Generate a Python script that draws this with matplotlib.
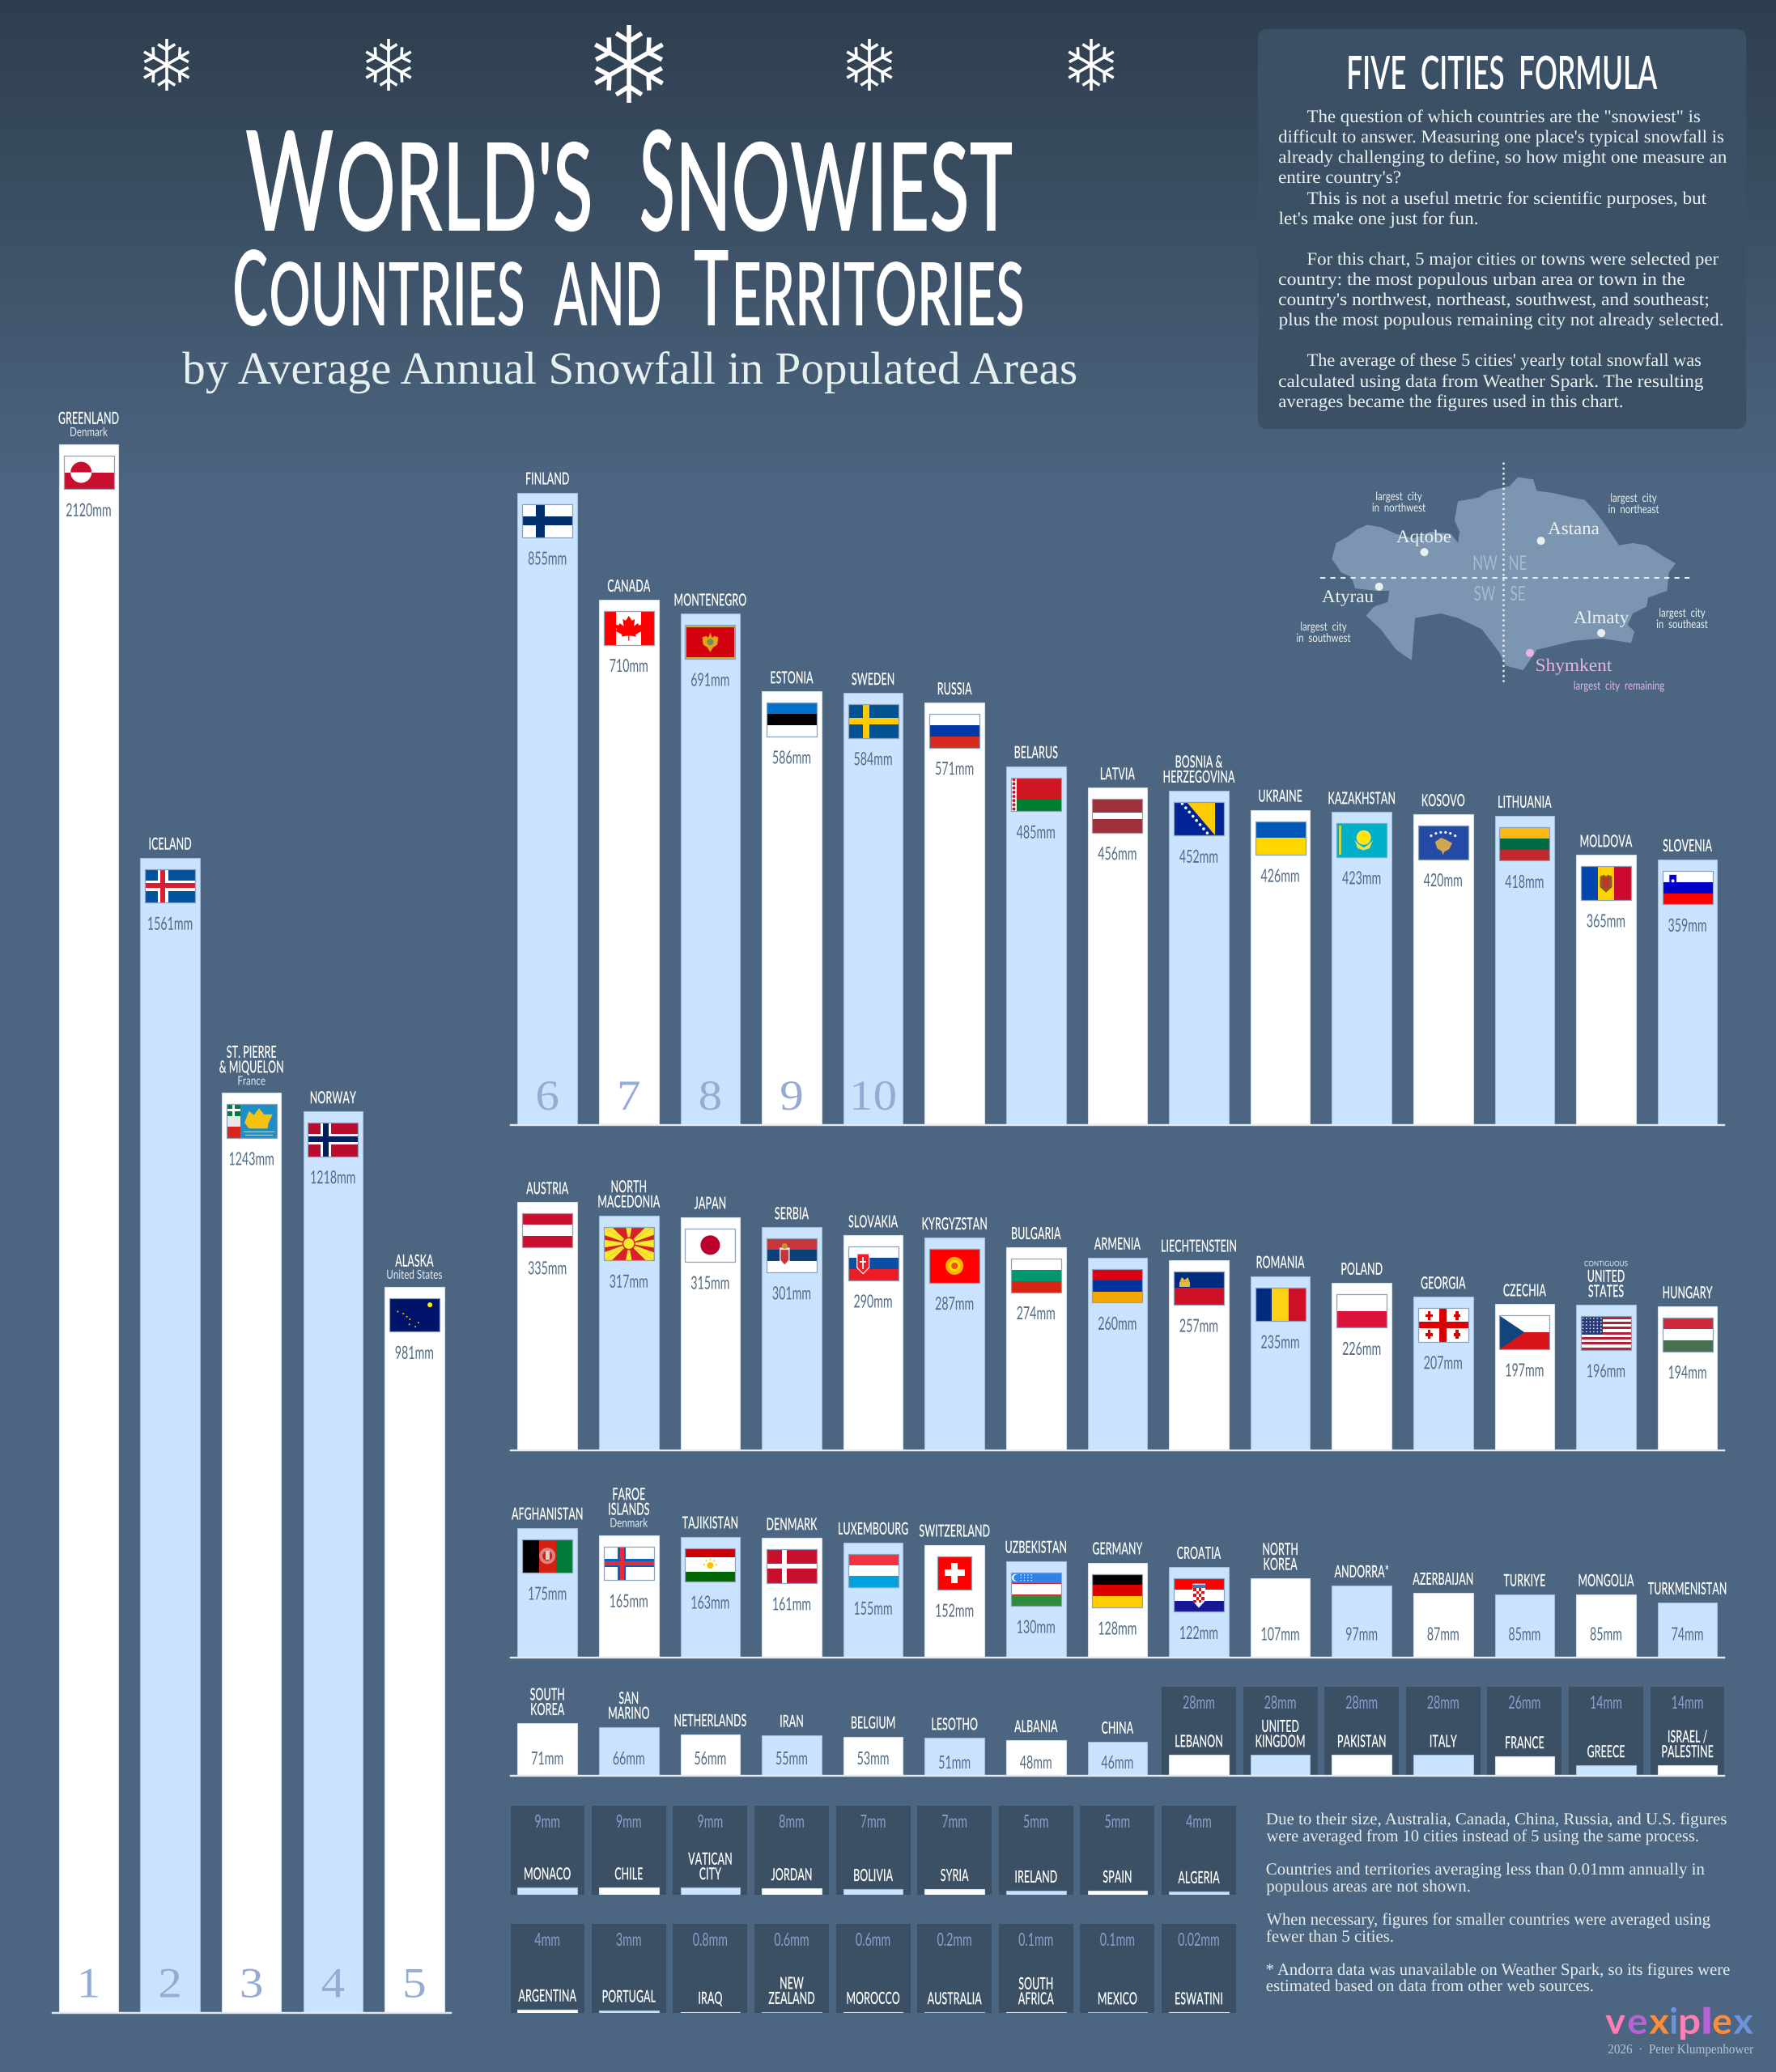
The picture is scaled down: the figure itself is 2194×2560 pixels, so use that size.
#!/usr/bin/python3

import numpy as np
import matplotlib
matplotlib.use("Agg")
import matplotlib.pyplot as plt
from matplotlib.font_manager import FontProperties
from matplotlib.patches import Rectangle, Circle, Polygon, Wedge, FancyBboxPatch
from matplotlib.patheffects import AbstractPathEffect
from matplotlib.textpath import TextPath
from matplotlib.transforms import Affine2D

plt.rcParams["text.hinting"] = "no_hinting"

W, H = 2194, 2560
DPI = 100
PX = 72.0 / DPI
SCALE = 0.914        # pixels per mm, same for every panel

# ---- data ----
names_1 = ["GREENLAND", "ICELAND", "ST. PIERRE\n& MIQUELON", "NORWAY", "ALASKA"]
values_1 = [2120, 1561, 1243, 1218, 981]

names_2 = ["FINLAND", "CANADA", "MONTENEGRO", "ESTONIA", "SWEDEN", "RUSSIA", "BELARUS", "LATVIA",
           "BOSNIA &\nHERZEGOVINA", "UKRAINE", "KAZAKHSTAN", "KOSOVO", "LITHUANIA", "MOLDOVA", "SLOVENIA"]
values_2 = [855, 710, 691, 586, 584, 571, 485, 456, 452, 426, 423, 420, 418, 365, 359]

names_3 = ["AUSTRIA", "NORTH\nMACEDONIA", "JAPAN", "SERBIA", "SLOVAKIA", "KYRGYZSTAN", "BULGARIA", "ARMENIA",
           "LIECHTENSTEIN", "ROMANIA", "POLAND", "GEORGIA", "CZECHIA", "UNITED\nSTATES", "HUNGARY"]
values_3 = [335, 317, 315, 301, 290, 287, 274, 260, 257, 235, 226, 207, 197, 196, 194]

names_4 = ["AFGHANISTAN", "FAROE\nISLANDS", "TAJIKISTAN", "DENMARK", "LUXEMBOURG", "SWITZERLAND", "UZBEKISTAN",
           "GERMANY", "CROATIA", "NORTH\nKOREA", "ANDORRA*", "AZERBAIJAN", "TURKIYE", "MONGOLIA", "TURKMENISTAN"]
values_4 = [175, 165, 163, 161, 155, 152, 130, 128, 122, 107, 97, 87, 85, 85, 74]

names_5 = ["SOUTH\nKOREA", "SAN\nMARINO", "NETHERLANDS", "IRAN", "BELGIUM", "LESOTHO", "ALBANIA", "CHINA",
           "LEBANON", "UNITED\nKINGDOM", "PAKISTAN", "ITALY", "FRANCE", "GREECE", "ISRAEL /\nPALESTINE"]
values_5 = [71, 66, 56, 55, 53, 51, 48, 46, 28, 28, 28, 28, 26, 14, 14]

names_6 = ["MONACO", "CHILE", "VATICAN\nCITY", "JORDAN", "BOLIVIA", "SYRIA", "IRELAND", "SPAIN", "ALGERIA"]
values_6 = [9, 9, 9, 8, 7, 7, 5, 5, 4]

names_7 = ["ARGENTINA", "PORTUGAL", "IRAQ", "NEW\nZEALAND", "MOROCCO", "AUSTRALIA", "SOUTH\nAFRICA", "MEXICO", "ESWATINI"]
values_7 = [4, 3, 0.8, 0.6, 0.6, 0.2, 0.1, 0.1, 0.02]

subs_below = {"GREENLAND": "Denmark", "ST. PIERRE\n& MIQUELON": "France", "ALASKA": "United States",
              "FAROE\nISLANDS": "Denmark"}
subs_above = {"UNITED\nSTATES": "CONTIGUOUS"}

box_title = "FIVE  CITIES  FORMULA"
box_lines = [
    'The question of which countries are the "snowiest" is',
    "difficult to answer. Measuring one place's typical snowfall is",
    "already challenging to define, so how might one measure an",
    "entire country's?",
    "This is not a useful metric for scientific purposes, but",
    "let's make one just for fun.",
    "For this chart, 5 major cities or towns were selected per",
    "country: the most populous urban area or town in the",
    "country's northwest, northeast, southwest, and southeast;",
    "plus the most populous remaining city not already selected.",
    "The average of these 5 cities' yearly total snowfall was",
    "calculated using data from Weather Spark. The resulting",
    "averages became the figures used in this chart.",
]
box_line_y = [151, 176, 201, 226, 252, 277, 327, 352, 377, 402, 452, 478, 503]
box_line_x = [1615, 1580, 1580, 1580, 1615, 1580, 1615, 1580, 1580, 1580, 1615, 1580, 1580]
box_line_w = [485, 549, 553, 150, 493, 245, 508, 501, 530, 548, 486, 524, 424]

foot_lines = [
    "Due to their size, Australia, Canada, China, Russia, and U.S. figures",
    "were averaged from 10 cities instead of 5 using the same process.",
    "Countries and territories averaging less than 0.01mm annually in",
    "populous areas are not shown.",
    "When necessary, figures for smaller countries were averaged using",
    "fewer than 5 cities.",
    "* Andorra data was unavailable on Weather Spark, so its figures were",
    "estimated based on data from other web sources.",
]
foot_line_y = [2254, 2275, 2316, 2337, 2378, 2399, 2440, 2460]
foot_line_w = [568, 533, 541, 251, 548, 156, 572, 403]

# colours
BG_TOP = "#2E3E4E"
BG = "#4C6580"
CARD = "#3C5065"
WHITE_BAR = "#FFFFFF"
BLUE_BAR = "#CAE4FF"
VALUE_C = "#516B85"
CARD_VALUE_C = "#8C9FCB"
RANK_C = "#96ABD3"
LINE_C = "#E3EAF0"
SERIF = "Liberation Serif"
SANS = "Lato"


class Tall(AbstractPathEffect):
    # the condensed look: a smaller font size drawn taller from the baseline
    def __init__(self, yk, left=False):
        super().__init__()
        self.yk = yk
        self.left = left

    def draw_path(self, renderer, gc, tpath, affine, rgbFace=None):
        t = Affine2D().scale(1, self.yk)
        if self.left:
            t = Affine2D().translate(-tpath.get_extents().x0, 0) + t
        gc.set_snap(False)
        renderer.draw_path(gc, tpath, t + affine, rgbFace)


def natural_width(s, size, family, weight="normal"):
    tp = TextPath((0, 0), s, size=size, prop=FontProperties(family=family, weight=weight))
    return tp.get_extents().width / PX


fig = plt.figure(figsize=(W / DPI, H / DPI), dpi=DPI)
fig.patch.set_facecolor(BG)

# background
bg = fig.add_axes([0, 0, 1, 1], zorder=0)
bg.axis("off")
t = np.clip(np.arange(H) / 600.0, 0, 1)[:, None, None] * np.ones((H, 2, 1))
c0 = np.array(matplotlib.colors.to_rgb(BG_TOP))
c1 = np.array(matplotlib.colors.to_rgb(BG))
bg.imshow(c0 + (c1 - c0) * t, aspect="auto", extent=(0, W, H, 0), interpolation="nearest")

# overlay in pixel coordinates
ov = fig.add_axes([0, 0, 1, 1], zorder=3)
ov.set_xlim(0, W)
ov.set_ylim(H, 0)
ov.axis("off")
ov.patch.set_alpha(0)


def txt(x, y, s, size, color="white", family=SERIF, weight="normal", width=None, k=1.0, ha="center"):
    # size is the height wanted, k the horizontal squeeze
    if width is not None:
        k = width / natural_width(s, size, family, weight)
    return ov.text(x, y, s, fontsize=size * k, color=color, family=family, weight=weight, ha=ha, va="baseline",
                   path_effects=[Tall(1 / k, left=ha == "left")], zorder=8)


def snowflake(cx, cy, r, lw):
    for a in np.radians(np.arange(0, 360, 60)):
        ux, uy = np.sin(a), -np.cos(a)
        px, py = uy, -ux
        ov.plot([cx, cx + ux * r], [cy, cy + uy * r], color="white", lw=lw, solid_capstyle="butt", zorder=6)
        for s in (-1, 1):
            ov.plot([cx + ux * r * .58, cx + ux * r * .79 + s * px * r * .33],
                    [cy + uy * r * .58, cy + uy * r * .79 + s * py * r * .33],
                    color="white", lw=lw, solid_capstyle="butt", zorder=6)


# ---- flags ----
def rect(f, u0, v0, u1, v1, c):
    x, y, w, h = f
    ov.add_patch(Rectangle((x + u0 * w, y + v0 * h), (u1 - u0) * w, (v1 - v0) * h, fc=c, ec="none", zorder=5))


def poly(f, pts, c):
    x, y, w, h = f
    ov.add_patch(Polygon([(x + u * w, y + v * h) for u, v in pts], fc=c, ec="none", zorder=5))


def dot(f, u, v, r, c):
    x, y, w, h = f
    ov.add_patch(Circle((x + u * w, y + v * h), r, fc=c, ec="none", zorder=5))


def hstripes(f, colors, ratios=None):
    ratios = ratios or [1] * len(colors)
    edges = np.cumsum([0] + list(ratios)) / sum(ratios)
    for c, a, b in zip(colors, edges[:-1], edges[1:]):
        rect(f, 0, a, 1, b, c)


def vstripes(f, colors):
    n = len(colors)
    for i, c in enumerate(colors):
        rect(f, i / n, 0, (i + 1) / n, 1, c)


def cross(f, bg_c, bands, uc=.36):
    # bands are (colour, thickness in px), outermost first
    x, y, w, h = f
    rect(f, 0, 0, 1, 1, bg_c)
    for c, th in bands:
        rect(f, uc - th / 2 / w, 0, uc + th / 2 / w, 1, c)
        rect(f, 0, .5 - th / 2 / h, 1, .5 + th / 2 / h, c)


def shield(f, u, v, c, du=.1, dv=.24):
    poly(f, [(u - du, v - dv), (u + du, v - dv), (u + du, v + dv * .4), (u, v + dv), (u - du, v + dv * .4)], c)


flag_h = {
    "GREENLAND": ["white", "#C8102E"],
    "ESTONIA": ["#0072CE", "black", "white"],
    "RUSSIA": ["white", "#0039A6", "#D52B1E"],
    "UKRAINE": ["#0057B7", "#FFD700"],
    "LITHUANIA": ["#FDB913", "#006A44", "#C1272D"],
    "SLOVENIA": ["white", "#0000C8", "#FF0000"],
    "AUSTRIA": ["#C8102E", "white", "#C8102E"],
    "SERBIA": ["#C6363C", "#0C4076", "white"],
    "SLOVAKIA": ["white", "#0B4EA2", "#EE1C25"],
    "BULGARIA": ["white", "#00966E", "#D62612"],
    "ARMENIA": ["#D90012", "#0033A0", "#F2A800"],
    "LIECHTENSTEIN": ["#002B7F", "#CE1126"],
    "POLAND": ["white", "#DC143C"],
    "HUNGARY": ["#CE2939", "white", "#477050"],
    "LUXEMBOURG": ["#EF3340", "white", "#00A3E0"],
    "GERMANY": ["black", "#DD0000", "#FFCE00"],
    "CROATIA": ["#FF0000", "white", "#171796"],
}
flag_v = {
    "CANADA": ["#FF0000", "white", "white", "#FF0000"],
    "MOLDOVA": ["#0046AE", "#FFD200", "#CC092F"],
    "ROMANIA": ["#002B7F", "#FCD116", "#CE1126"],
    "AFGHANISTAN": ["black", "#D32011", "#007A36"],
}
flag_cross = {
    "ICELAND": ("#02529C", [("white", 13), ("#DC1E35", 6)]),
    "NORWAY": ("#BA0C2F", [("white", 13), ("#00205B", 7)]),
    "FINLAND": ("white", [("#002F6C", 11)]),
    "SWEDEN": ("#005293", [("#FECB00", 8)]),
    "FAROE\nISLANDS": ("white", [("#0065BD", 10), ("#ED2939", 5)]),
    "DENMARK": ("#C8102E", [("white", 6)]),
}


def flag_extra(name, f):
    if name == "GREENLAND":
        x, y, w, h = f
        dot(f, .35, .5, 13, "white")
        ov.add_patch(Wedge((x + .35 * w, y + .5 * h), 13, 180, 360, fc="#C8102E", ec="none", zorder=5))
    elif name == "ST. PIERRE\n& MIQUELON":
        rect(f, 0, 0, 1, 1, "#1E8FC6")
        rect(f, 0, 0, .28, .34, "#0B7A3E")
        rect(f, .11, 0, .17, .34, "white")
        rect(f, 0, .13, .28, .21, "white")
        rect(f, 0, .34, .28, .66, "#E8E8E8")
        rect(f, 0, .66, .28, 1, "#D7261E")
        rect(f, .29, 0, .3, 1, "white")
        poly(f, [(.36, .55), (.45, .2), (.55, .32), (.65, .12), (.75, .3), (.92, .3), (.84, .55), (.82, .72), (.45, .72)], "#F5C211")
        rect(f, .34, .8, .96, .84, "#A5DCF0")
        rect(f, .38, .9, .92, .94, "#A5DCF0")
    elif name == "ALASKA":
        rect(f, 0, 0, 1, 1, "#00136B")
        dot(f, .81, .2, 3, "#FFE800")
        for u, v in [(.17, .4), (.28, .46), (.35, .55), (.41, .63), (.4, .78), (.52, .85), (.58, .73)]:
            dot(f, u, v, 1, "#E8C800")
    elif name == "CANADA":
        poly(f, [(.5, .14), (.56, .28), (.62, .24), (.6, .45), (.68, .36), (.7, .42), (.78, .4), (.74, .55), (.78, .58),
                 (.63, .7), (.65, .76), (.51, .73), (.51, .88), (.49, .88), (.49, .73), (.35, .76), (.37, .7), (.22, .58),
                 (.26, .55), (.22, .4), (.3, .42), (.32, .36), (.4, .45), (.38, .24), (.44, .28)], "#FF0000")
    elif name == "MONTENEGRO":
        rect(f, 0, 0, 1, 1, "#D4AF37")
        rect(f, .03, .05, .97, .95, "#D3000F")
        poly(f, [(.34, .36), (.42, .32), (.46, .38), (.5, .22), (.54, .38), (.58, .32), (.66, .36), (.64, .58), (.56, .66), (.5, .8), (.44, .66), (.36, .58)], "#E8A317")
        dot(f, .5, .5, 4, "#6B8E5A")
    elif name == "BELARUS":
        hstripes(f, ["#CE1720", "#007C30"], [2, 1])
        rect(f, 0, 0, .12, 1, "white")
        for v in np.arange(.06, 1, .125):
            dot(f, .06, v, 2, "#CE1720")
    elif name == "LATVIA":
        hstripes(f, ["#9E3039", "white", "#9E3039"], [2, 1, 2])
    elif name == "BOSNIA &\nHERZEGOVINA":
        rect(f, 0, 0, 1, 1, "#002395")
        poly(f, [(.25, 0), (.82, 0), (.82, 1)], "#FECB00")
        for s in np.arange(.05, 1, .125):
            dot(f, .14 + .57 * s, s, 1.8, "white")
    elif name == "KAZAKHSTAN":
        rect(f, 0, 0, 1, 1, "#00AFCA")
        rect(f, .04, .06, .1, .94, "#C4D94A")
        dot(f, .54, .42, 9, "#F4E34A")
        dot(f, .54, .42, 6.5, "#FFE800")
        poly(f, [(.36, .5), (.44, .62), (.54, .72), (.64, .62), (.72, .5), (.66, .74), (.54, .8), (.42, .74)], "#F4E34A")
    elif name == "KOSOVO":
        rect(f, 0, 0, 1, 1, "#244AA5")
        poly(f, [(.34, .48), (.46, .36), (.56, .42), (.68, .52), (.62, .7), (.52, .78), (.5, .88), (.47, .76), (.38, .68)], "#D0A650")
        for u, v in zip(np.linspace(.26, .74, 6), [.3, .23, .2, .2, .23, .3]):
            dot(f, u, v, 1.6, "white")
    elif name == "MOLDOVA":
        poly(f, [(.38, .3), (.46, .25), (.5, .3), (.54, .25), (.62, .3), (.62, .62), (.5, .78), (.38, .62)], "#8A5A1E")
        shield(f, .5, .5, "#C8312B", .06, .16)
    elif name == "SLOVENIA":
        shield(f, .21, .33, "#0000C8", .07, .21)
        dot(f, .21, .3, 2, "white")
    elif name == "NORTH\nMACEDONIA":
        rect(f, 0, 0, 1, 1, "#D82126")
        for u, v in [(0, 0), (.5, 0), (1, 0), (0, .5), (1, .5), (0, 1), (.5, 1), (1, 1)]:
            if u == .5:
                pts = [(.44, v), (.56, v), (.5, .5)]
            elif v == .5:
                pts = [(u, .38), (u, .62), (.5, .5)]
            else:
                pts = [(u, v), (abs(u - .16), v), (.5, .5)]
                poly(f, [(u, v), (u, abs(v - .24)), (.5, .5)], "#F8E92E")
            poly(f, pts, "#F8E92E")
        dot(f, .5, .5, 8, "#D82126")
        dot(f, .5, .5, 6.5, "#F8E92E")
    elif name == "JAPAN":
        rect(f, 0, 0, 1, 1, "white")
        dot(f, .5, .5, 12, "#BC002D")
    elif name == "SERBIA":
        shield(f, .36, .55, "white", .1, .28)
        shield(f, .36, .55, "#C6363C", .08, .22)
        dot(f, .36, .22, 3.5, "#C9902F")
    elif name == "SLOVAKIA":
        shield(f, .3, .5, "white", .13, .32)
        shield(f, .3, .5, "#EE1C25", .11, .28)
        rect(f, .28, .3, .32, .66, "white")
        rect(f, .24, .42, .36, .47, "white")
    elif name == "KYRGYZSTAN":
        rect(f, 0, 0, 1, 1, "#FF0000")
        dot(f, .5, .5, 11, "#F8B400")
        dot(f, .5, .5, 7, "#FFD400")
        dot(f, .5, .5, 4, "#E8521C")
    elif name == "LIECHTENSTEIN":
        rect(f, .12, .32, .32, .46, "#E8B93A")
        poly(f, [(.12, .32), (.16, .18), (.22, .26), (.28, .18), (.32, .32)], "#E8B93A")
    elif name == "GEORGIA":
        rect(f, 0, 0, 1, 1, "white")
        rect(f, .43, 0, .57, 1, "#D80000")
        rect(f, 0, .41, 1, .59, "#D80000")
        for u, v in [(.22, .22), (.78, .22), (.22, .78), (.78, .78)]:
            rect(f, u - .028, v - .14, u + .028, v + .14, "#D80000")
            rect(f, u - .07, v - .045, u + .07, v + .045, "#D80000")
    elif name == "CZECHIA":
        hstripes(f, ["white", "#D7141A"])
        poly(f, [(0, 0), (.5, .5), (0, 1)], "#11457E")
    elif name == "UNITED\nSTATES":
        hstripes(f, ["#B22234", "white"] * 6 + ["#B22234"])
        rect(f, 0, 0, .44, 7 / 13, "#2A3A78")
        for iu in range(6):
            for iv in range(5):
                dot(f, .04 + iu * .072, .06 + iv * .1, .8, "white")
    elif name == "AFGHANISTAN":
        dot(f, .5, .5, 10, "#E08080")
        dot(f, .5, .5, 6, "#D32011")
        rect(f, .46, .36, .54, .62, "#F0C8C8")
    elif name == "TAJIKISTAN":
        hstripes(f, ["#CC0000", "white", "#006600"], [2, 3, 2])
        dot(f, .5, .52, 4, "#F8C300")
        for u, v in [(.38, .5), (.42, .38), (.5, .34), (.58, .38), (.62, .5)]:
            dot(f, u, v, 1, "#F8C300")
    elif name == "SWITZERLAND":
        rect(f, 0, 0, 1, 1, "#FF0000")
        rect(f, .4, .2, .6, .8, "white")
        rect(f, .2, .4, .8, .6, "white")
    elif name == "UZBEKISTAN":
        hstripes(f, ["#3182E8", "#D82126", "white", "#D82126", "#2E8B3A"], [10, .7, 9, .7, 10])
        dot(f, .09, .16, 4.5, "white")
        dot(f, .12, .16, 4, "#3182E8")
        for iu in range(4):
            for iv in range(3):
                dot(f, .2 + iu * .07, .08 + iv * .08, .7, "white")
    elif name == "CROATIA":
        shield(f, .5, .52, "white", .13, .36)
        for iu in range(4):
            for iv in range(5):
                if (iu + iv) % 2 == 0:
                    rect(f, .39 + iu * .055, .3 + iv * .085, .445 + iu * .055, .385 + iv * .085, "#E0101C")
        rect(f, .37, .2, .63, .28, "#3E78B8")


no_flag = {"NORTH\nKOREA", "ANDORRA*", "AZERBAIJAN", "TURKIYE", "MONGOLIA", "TURKMENISTAN"}


def draw_flag(name, cx, top):
    w = 42 if name == "SWITZERLAND" else 62
    f = (cx - w / 2, top + 14, w, 41.5)
    if name in flag_h:
        hstripes(f, flag_h[name])
    if name in flag_v:
        vstripes(f, flag_v[name])
    if name in flag_cross:
        bg_c, bands = flag_cross[name]
        cross(f, bg_c, bands)
    flag_extra(name, f)
    ov.add_patch(Rectangle(f[:2], f[2], f[3], fc="none", ec="#8DA2B8", lw=0.9, zorder=6))


# ---- bar panels ----
rank_counter = 0
NAME_K = 0.6
VALUE_K = 0.64


def note(ax, s, xy, up, size, color, k, family=SANS, weight="normal"):
    # up is in pixels above the data point
    return ax.annotate(s, xy, xytext=(0, up * PX), textcoords="offset points", ha="center", va="baseline",
                       fontsize=size * k, color=color, family=family, weight=weight, annotation_clip=False,
                       path_effects=[Tall(1 / k)])


def panel(names, values, x_left, x_right, c0, pitch, base_y, baseline=True, n_plain=None,
          card_top=None, value_up=None, with_flags=True):
    global rank_counter
    n_plain = len(names) if n_plain is None else n_plain
    ax = fig.add_axes([x_left / W, (H - base_y) / H, (x_right - x_left) / W, (base_y - 10) / H], zorder=2)
    ax.set_xlim((x_left - c0) / pitch, (x_right - c0) / pitch)
    ax.set_ylim(0, (base_y - 10) / SCALE)
    ax.patch.set_alpha(0)
    ax.set_xticks([])
    ax.set_yticks([])
    for s in ("top", "left", "right"):
        ax.spines[s].set_visible(False)
    ax.spines["bottom"].set_color(LINE_C)
    ax.spines["bottom"].set_linewidth(2.4 * PX)
    ax.spines["bottom"].set_visible(baseline)

    x = np.arange(len(names))
    ranks = rank_counter + x
    colors = [BLUE_BAR if r % 2 else WHITE_BAR for r in ranks]
    edges = ["#A3BDD8" if r % 2 else "#D5DEE8" for r in ranks]
    card_mm = None
    if card_top is not None:
        card_mm = (base_y - card_top) / SCALE
        ax.bar(x[n_plain:], card_mm, width=92 / pitch, color=CARD, zorder=1)
    ax.bar(x, values, width=73.5 / pitch, color=colors, edgecolor=edges, linewidth=1.1 * PX, zorder=2)

    for i, (name, v) in enumerate(zip(names, values)):
        up = 10
        if name in subs_below:
            note(ax, subs_below[name], (i, v), up, 11, "#E6EEF4", .76)
            up += 15
        for line in reversed(name.split("\n")):
            note(ax, line, (i, v), up, 15, "white", NAME_K, weight="semibold")
            up += 18.5
        if name in subs_above:
            note(ax, subs_above[name], (i, v), up + 1, 6.5, "#E6EEF4", .9)

        label = f"{v:g}mm"
        if card_top is not None and i >= n_plain:
            note(ax, label, (i, card_mm), -27, 16, CARD_VALUE_C, VALUE_K)
        elif with_flags and name not in no_flag:
            note(ax, label, (i, v), -89, 16, VALUE_C, VALUE_K)
            px, py = ax.transData.transform((i, v))
            draw_flag(name, px, H - py)
        else:
            note(ax, label, (i, 0), value_up(v) - 8, 16, VALUE_C, VALUE_K)

        rank = ranks[i] + 1
        if rank <= 10:
            note(ax, str(rank), (i, 0), 19, 38, RANK_C, 1.12, family=SERIF)
    rank_counter += len(names)
    return ax


C0 = 676.2
P = 100.6
panel(names_1, values_1, 65, 557, 109.5, 100.6, 2486.5)
panel(names_2, values_2, 631, 2130, C0, P, 1390)
panel(names_3, values_3, 631, 2130, C0, P, 1791.5)
panel(names_4, values_4, 631, 2130, C0, P, 2047.5, value_up=lambda v: 29)
panel(names_5, values_5, 631, 2130, C0, P, 2194, n_plain=8, card_top=2084, with_flags=False,
      value_up=lambda v: 22 if v >= 53 else 17)
panel(names_6, values_6, 631, 2130, C0, P, 2340.5, baseline=False, n_plain=0, card_top=2231, with_flags=False)
panel(names_7, values_7, 631, 2130, C0, P, 2486.5, baseline=False, n_plain=0, card_top=2377, with_flags=False)

# ---- header ----
for cx in (205.7, 480, 1074, 1348):
    snowflake(cx, 80, 32, 2.6)
snowflake(777, 79, 48, 4.0)

title_runs = [
    ("W", 304, 411.5, 285, 124),
    ("ORLD'S", 419, 729, 285, 109),
    ("S", 792, 830.6, 285, 124),
    ("NOWIEST", 842, 1250, 285, 109),
    ("C", 290, 330, 402, 93),
    ("OUNTRIES", 335, 646, 402, 78),
    ("AND", 684, 815, 402, 78),
    ("T", 858, 899.5, 402, 93),
    ("ERRITORIES", 909, 1263, 402, 78),
]
for s, x0, x1, base, size in title_runs:
    txt(x0, base, s, size, family=SANS, weight="semibold", width=x1 - x0, ha="left")

txt(778, 474, "by Average Annual Snowfall in Populated Areas", 41, color="#E6F0F0", width=1104)

# ---- formula box ----
ov.add_patch(FancyBboxPatch((1564, 46), 583, 474, boxstyle="round,pad=10,rounding_size=12", fc=CARD, ec="none", zorder=4))
txt(1855, 110, box_title, 41, family=SANS, weight="semibold", width=381)
for line, x0, y, w in zip(box_lines, box_line_x, box_line_y, box_line_w):
    txt(x0, y, line, 16, color="#EDF2F2", width=w, ha="left")

# ---- map ----
map_outline = [
    (272, 1195), (285, 1160), (320, 1145), (345, 1130), (375, 1120), (415, 1125), (460, 1140), (510, 1150), (560, 1135),
    (620, 1140), (640, 1160), (645, 1135), (630, 1110), (640, 1068), (700, 1060), (730, 1045), (790, 1035), (815, 1015),
    (860, 1020), (870, 1045), (920, 1050), (975, 1060), (1010, 1065), (1040, 1090), (1070, 1120), (1110, 1165),
    (1150, 1160), (1190, 1165), (1230, 1185), (1275, 1205), (1255, 1225), (1250, 1265), (1195, 1280), (1190, 1300),
    (1150, 1315), (1135, 1340), (1155, 1355), (1145, 1380), (1060, 1370), (980, 1375), (870, 1395), (830, 1440),
    (780, 1430), (760, 1400), (710, 1350), (640, 1325), (590, 1315), (515, 1325), (505, 1418), (460, 1395), (415, 1350),
    (372, 1320), (395, 1300), (435, 1290), (440, 1265), (400, 1265), (340, 1260), (330, 1235), (300, 1225)]


def mx(u):
    return 1530 + u / 2.361


def my(v):
    return 20 + v / 1.782


ov.add_patch(Polygon([(mx(u), my(v)) for u, v in map_outline], fc="#7C96B2", ec="none", zorder=4))
ov.plot([mx(238), mx(1318)], [my(1236), my(1236)], color="#E3EAF0", lw=1.5, ls=(0, (3, 3)), zorder=5)
ov.plot([mx(771), mx(771)], [my(982), my(1470)], color="#E3EAF0", lw=1.8, ls=(0, (1, 1.5)), zorder=5)

for u, v, c in [(542, 1180, "#E6F0EC"), (882, 1155, "#E6F0EC"), (410, 1256, "#E6F0EC"), (1058, 1358, "#E6F0EC"), (850, 1402, "#E8B4E4")]:
    ov.add_patch(Circle((mx(u), my(v)), 5, fc=c, ec="none", zorder=6))

for s, cx, by, w, c in [("Aqtobe", 1759, 670, 67, "#EDF2F2"), ("Astana", 1944, 660, 63, "#EDF2F2"),
                        ("Atyrau", 1665, 744, 63.5, "#EDF2F2"), ("Almaty", 1978, 770, 68, "#EDF2F2"),
                        ("Shymkent", 1944, 829, 93, "#E8B4E4")]:
    txt(cx, by, s, 16, color=c, width=w)

for s, cx, by in [("NW", 1834.5, 704), ("NE", 1875, 704), ("SW", 1834, 742), ("SE", 1875, 742)]:
    txt(cx, by, s, 18, color="#A9BBCD", family=SANS, k=.68)

for s, cx, by in [("largest  city", 1728, 618), ("in  northwest", 1728, 632), ("largest  city", 2018, 620),
                  ("in  northeast", 2018, 634), ("largest  city", 1635, 779), ("in  southwest", 1635, 793),
                  ("largest  city", 2078, 762), ("in  southeast", 2078, 776)]:
    txt(cx, by, s, 10.5, color="#EDF2F2", family=SANS, k=.78)
txt(2000, 852, "largest  city  remaining", 10.5, color="#E8B4E4", family=SANS, k=.78)

# ---- notes ----
for line, y, w in zip(foot_lines, foot_line_y, foot_line_w):
    txt(1564.6, y, line, 15, color="#E8EEF0", width=w, ha="left")

# logo
logo_letters = list("vexiplex")
logo_colors = ["#FF7EB6", "#B663D6", "#FF8C36", "#6C93DC", "#FF7EB6", "#B663D6", "#FF8C36", "#6C93DC"]
logo_x = [(70, 143), (155, 222), (233, 305), (313, 333), (348, 418), (433, 458), (470, 535), (545, 617)]
for ch, c, (a, b) in zip(logo_letters, logo_colors, logo_x):
    txt(1960 + a / 3, 2512.7, ch, 32, color=c, family=SANS, weight="bold", width=(b - a) / 3, ha="left")
txt(2076, 2537, "2026  ·  Peter Klumpenhower", 12, color="#B7C4D2", width=179)

fig.savefig("out.png", dpi=DPI, facecolor=BG)
